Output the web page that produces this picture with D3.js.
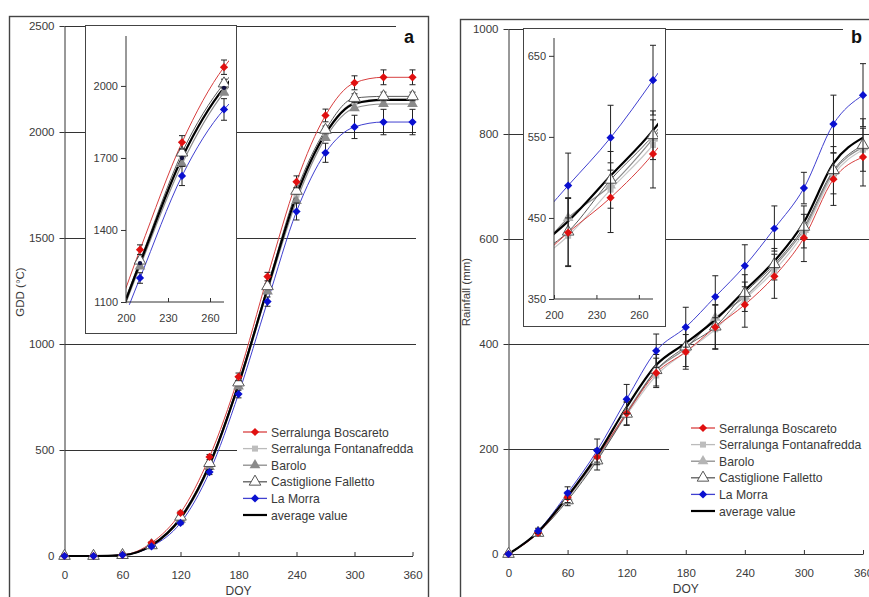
<!DOCTYPE html>
<html>
<head>
<meta charset="utf-8">
<script src="https://cdn.jsdelivr.net/npm/d3@7"></script>
<style>
  body { margin: 0; background: #fff; }
  svg { display: block; font-family: "Liberation Sans", Arial, sans-serif; }
</style>
</head>
<body>
<svg id="chart" width="869" height="597"></svg>
<script>
// Day of year for every sample
const doy = [0, 30, 60, 90, 120, 150, 180, 210, 240, 270, 300, 330, 360];
const xTicks = [0, 60, 120, 180, 240, 300, 360];
const insetXTicks = [200, 230, 260];

const siteNames = ["Serralunga Boscareto", "Serralunga Fontanafredda", "Barolo",
  "Castiglione Falletto", "La Morra", "average value"];

// Panel a: growing degree days (°C)
const gddTicks = [0, 500, 1000, 1500, 2000, 2500];
const gddInsetTicks = [1100, 1400, 1700, 2000];
const gddBoscareto     = [0, 0, 5, 62, 203, 467, 845, 1318, 1765, 2078, 2232, 2258, 2258];
const gddFontanafredda = [0, 0, 4, 52, 180, 430, 815, 1268, 1705, 1995, 2140, 2155, 2155];
const gddBarolo        = [0, 0, 4, 48, 172, 420, 800, 1248, 1675, 1972, 2113, 2132, 2132];
const gddCastiglione   = [0, 0, 4, 50, 185, 438, 818, 1272, 1722, 2010, 2160, 2168, 2168];
const gddLaMorra       = [0, 0, 5, 45, 156, 396, 764, 1200, 1625, 1902, 2024, 2047, 2047];
const gddAverage       = [0, 0, 4, 50, 178, 430, 808, 1262, 1700, 1992, 2134, 2152, 2152];
const gddErrBoscareto   = [0, 0, 2, 5, 8, 12, 18, 20, 28, 30, 33, 35, 35];
const gddErrCastiglione = [0, 0, 0, 3, 5, 8, 10, 12, 15, 18, 20, 20, 20];
const gddErrLaMorra     = [0, 0, 2, 5, 8, 12, 18, 22, 40, 45, 55, 60, 60];

// Panel b: cumulative rainfall (mm)
const rainTicks = [0, 200, 400, 600, 800, 1000];
const rainInsetTicks = [350, 450, 550, 650];
const rainBoscareto     = [0, 40, 108, 185, 268, 345, 385, 432, 475, 529, 602, 714, 756];
const rainFontanafredda = [0, 40, 105, 180, 265, 340, 385, 428, 485, 540, 612, 722, 770];
const rainBarolo        = [0, 41, 108, 183, 270, 350, 392, 450, 490, 548, 618, 728, 775];
const rainCastiglione   = [0, 40, 102, 178, 267, 350, 395, 433, 497, 552, 623, 731, 779];
const rainLaMorra       = [0, 44, 116, 197, 295, 387, 432, 490, 549, 620, 697, 819, 874];
const rainAverage       = [0, 42, 110, 188, 280, 360, 402, 446, 502, 558, 632, 744, 793];
const rainErrBoscareto   = [0, 4, 10, 15, 22, 28, 33, 42, 43, 42, 45, 50, 55];
const rainErrCastiglione = [0, 4, 10, 18, 22, 30, 38, 42, 35, 30, 40, 45, 50];
const rainErrLaMorra     = [0, 5, 12, 22, 28, 32, 38, 40, 40, 43, 30, 55, 60];

const styles = {
  "Serralunga Boscareto":     { line: "#d84040", w: 1,   sym: d3.symbolSquare,   rot: 45, size: 34, fill: "#e01010", stroke: "none" },
  "Serralunga Fontanafredda": { line: "#c8c8c8", w: 1.2, sym: d3.symbolSquare,   rot: 0,  size: 36, fill: "#bdbdbd", stroke: "none" },
  "Barolo":                   { line: "#8c8c8c", w: 1.2, sym: d3.symbolTriangle, rot: 0,  size: 50, fill: "#8a8a8a", stroke: "none" },
  "Castiglione Falletto":     { line: "#5a5a5a", w: 1,   sym: d3.symbolTriangle, rot: 0,  size: 58, fill: "#fff",    stroke: "#555" },
  "La Morra":                 { line: "#4040d0", w: 1,   sym: d3.symbolSquare,   rot: 45, size: 34, fill: "#0a10d0", stroke: "none" },
  "average value":            { line: "#000",    w: 2.2, sym: null }
};

const svg = d3.select("#chart");
const textCol = "#3a3a3a";
const fmt = d3.format("d");

function makeSeries(values, errs) {
  return siteNames.map((name, i) => ({
    name,
    pts: doy.map((d, j) => ({ doy: d, v: values[i][j], e: errs[i] ? errs[i][j] : 0 }))
  }));
}

function drawCurves(g, series, x, y, opts) {
  const line = d3.line().x(d => x(d.doy)).y(d => y(d.v)).curve(d3.curveMonotoneX);
  const order = [1, 2, 3, 0, 4, 5];
  order.forEach(i => {
    const s = series[i], st = styles[s.name];
    g.append("path").attr("d", line(s.pts)).attr("fill", "none")
      .attr("stroke", st.line).attr("stroke-width", st.w);
  });
  order.forEach(i => {
    const s = series[i], st = styles[s.name];
    const pts = s.pts.filter(opts.keep);
    // error bars
    pts.filter(d => d.e > 0).forEach(d => {
      const cx = x(d.doy);
      g.append("path")
        .attr("d", `M${cx},${y(d.v - d.e)}V${y(d.v + d.e)}M${cx - 3},${y(d.v - d.e)}H${cx + 3}M${cx - 3},${y(d.v + d.e)}H${cx + 3}`)
        .attr("stroke", "#222").attr("stroke-width", 1).attr("fill", "none");
    });
    if (st.sym) {
      const fill = (opts.fills && opts.fills[s.name]) || st.fill;
      g.selectAll(null).data(pts).join("path")
        .attr("d", d3.symbol(st.sym, st.size))
        .attr("transform", d => `translate(${x(d.doy)},${y(d.v)}) rotate(${st.rot})`)
        .attr("fill", fill).attr("stroke", st.stroke).attr("stroke-width", 1);
    } else if (opts.avgDots) {
      g.selectAll(null).data(pts).join("circle")
        .attr("cx", d => x(d.doy)).attr("cy", d => y(d.v)).attr("r", 2.2)
        .attr("fill", "#101040");
    }
  });
}

function styleAxis(a, fs) {
  a.selectAll(".domain").attr("stroke", "#333");
  a.selectAll(".tick line").attr("stroke", "#333");
  a.selectAll("text").attr("fill", textCol).attr("font-size", fs);
}

function drawPanel(p) {
  const g = svg.append("g");
  const x = d3.scaleLinear().domain([0, 360]).range([p.left, p.right]);
  const y = d3.scaleLinear().domain([0, p.yMax]).range([p.bottom, p.top]);

  g.append("rect").attr("x", p.frame[0]).attr("y", p.frame[1])
    .attr("width", p.frame[2]).attr("height", p.frame[3])
    .attr("fill", "none").attr("stroke", "#444").attr("stroke-width", 1.4);

  // gridlines
  g.append("g").selectAll("line").data(p.yTicks.filter(d => d > 0)).join("line")
    .attr("x1", p.left).attr("x2", p.gridRight)
    .attr("y1", d => Math.round(y(d)) + 0.5).attr("y2", d => Math.round(y(d)) + 0.5)
    .attr("stroke", "#333").attr("stroke-width", 1);

  // panel letter
  g.append("rect").attr("x", p.letter.x - 8).attr("y", p.frame[1] + 2)
    .attr("width", 28).attr("height", 24).attr("fill", "#fff");
  g.append("text").attr("x", p.letter.x).attr("y", p.letter.y)
    .attr("font-size", 18).attr("font-weight", "bold").attr("fill", "#111").text(p.letter.t);

  // legend background hides the gridlines behind it
  g.append("rect").attr("x", p.legend.bgX).attr("y", p.legend.y - 10)
    .attr("width", p.legend.w).attr("height", 100).attr("fill", "#fff");

  const ya = g.append("g").attr("transform", `translate(${p.left},0)`)
    .call(d3.axisLeft(y).tickValues(p.yTicks).tickFormat(fmt).tickSize(5).tickSizeOuter(0).tickPadding(5));
  styleAxis(ya, 11.5);
  const xa = g.append("g").attr("transform", `translate(0,${p.bottom})`)
    .call(d3.axisBottom(x).tickValues(xTicks).tickFormat(fmt).tickSize(-4).tickSizeOuter(0).tickPadding(15));
  styleAxis(xa, 11.5);

  g.append("text").attr("x", (p.left + p.right) / 2).attr("y", p.bottom + 39)
    .attr("text-anchor", "middle").attr("font-size", 12).attr("fill", textCol).text("DOY");
  g.append("text").attr("transform", `translate(${p.yLabelX},${p.yLabelY}) rotate(-90)`)
    .attr("text-anchor", "middle").attr("font-size", 11.5).attr("fill", textCol).text(p.yLabel);

  drawCurves(g, p.series, x, y, { keep: () => true, fills: p.fills });

  // inset
  const ins = p.inset;
  g.append("rect").attr("x", ins.box[0] + 0.5).attr("y", ins.box[1] + 0.5)
    .attr("width", ins.box[2]).attr("height", ins.box[3])
    .attr("fill", "#fff").attr("stroke", "#444").attr("stroke-width", 1);
  const xi = d3.scaleLinear().domain([200, 270]).range([ins.left, ins.right]);
  const yi = d3.scaleLinear().domain(ins.yDomain).range([ins.bottom, ins.top]);
  const clipId = "clip-" + p.letter.t;
  g.append("clipPath").attr("id", clipId).append("rect")
    .attr("x", ins.left).attr("y", ins.top - 4)
    .attr("width", ins.right - ins.left + 5).attr("height", ins.bottom - ins.top + 7);
  const ig = g.append("g").attr("clip-path", `url(#${clipId})`);
  drawCurves(ig, p.series, xi, yi, { keep: d => d.doy >= 200 && d.doy <= 270, fills: p.fills, avgDots: ins.avgDots });

  const yia = g.append("g").attr("transform", `translate(${ins.left},0)`)
    .call(d3.axisLeft(yi).tickValues(ins.yTicks).tickFormat(fmt).tickSize(5).tickSizeOuter(0).tickPadding(3));
  yia.select(".domain").attr("d", `M0,${ins.bottom}V${ins.top}`);
  styleAxis(yia, 11);
  const xia = g.append("g").attr("transform", `translate(0,${ins.bottom})`)
    .call(d3.axisBottom(xi).tickValues(insetXTicks).tickFormat(fmt).tickSize(-4).tickSizeOuter(0).tickPadding(12));
  xia.select(".domain").attr("d", `M${ins.left},0H${ins.right}`);
  styleAxis(xia, 11);

  // legend
  const lg = g.append("g").attr("transform", `translate(${p.legend.x},${p.legend.y})`);
  p.series.forEach((s, i) => {
    const st = styles[s.name];
    const row = lg.append("g").attr("transform", `translate(0,${i * 16.6})`);
    row.append("line").attr("x1", 0).attr("x2", 24).attr("stroke", st.line === "#c8c8c8" ? "#bbb" : st.line)
      .attr("stroke-width", st.sym ? 1.3 : 2.2);
    if (st.sym) {
      row.append("path").attr("d", d3.symbol(st.sym, st.size)).attr("transform", `translate(12,0) rotate(${st.rot})`)
        .attr("fill", (p.fills && p.fills[s.name]) || st.fill).attr("stroke", st.stroke);
    }
    row.append("text").attr("x", 28).attr("y", 4.5).attr("font-size", 12.2)
      .attr("fill", textCol).text(s.name);
  });
}

drawPanel({
  left: 64.5, right: 412.5, top: 26, bottom: 556, yMax: 2500, yTicks: gddTicks,
  gridRight: 416, frame: [9.5, 16.5, 419, 620],
  letter: { x: 404, y: 43, t: "a" },
  yLabel: "GDD (°C)", yLabelX: 24, yLabelY: 292,
  legend: { x: 243, y: 432, w: 184, bgX: 237 },
  series: makeSeries(
    [gddBoscareto, gddFontanafredda, gddBarolo, gddCastiglione, gddLaMorra, gddAverage],
    [gddErrBoscareto, null, null, gddErrCastiglione, gddErrLaMorra, null]),
  inset: { box: [85, 25, 151, 308], left: 126, right: 224, top: 36, bottom: 302,
    yDomain: [1100, 2208], yTicks: gddInsetTicks, avgDots: true }
});

drawPanel({
  left: 508.5, right: 863, top: 29, bottom: 554, yMax: 1000, yTicks: rainTicks,
  gridRight: 869, frame: [460.5, 19.5, 430, 620],
  letter: { x: 851, y: 43, t: "b" },
  yLabel: "Rainfall (mm)", yLabelX: 470, yLabelY: 292,
  legend: { x: 691, y: 428, w: 200, bgX: 669 },
  fills: { "Barolo": "#b5b5b5" },
  series: makeSeries(
    [rainBoscareto, rainFontanafredda, rainBarolo, rainCastiglione, rainLaMorra, rainAverage],
    [rainErrBoscareto, null, null, rainErrCastiglione, rainErrLaMorra, null]),
  inset: { box: [523, 28, 142, 298], left: 554, right: 653, top: 38, bottom: 299,
    yDomain: [350, 672], yTicks: rainInsetTicks, avgDots: false }
});
</script>
</body>
</html>
